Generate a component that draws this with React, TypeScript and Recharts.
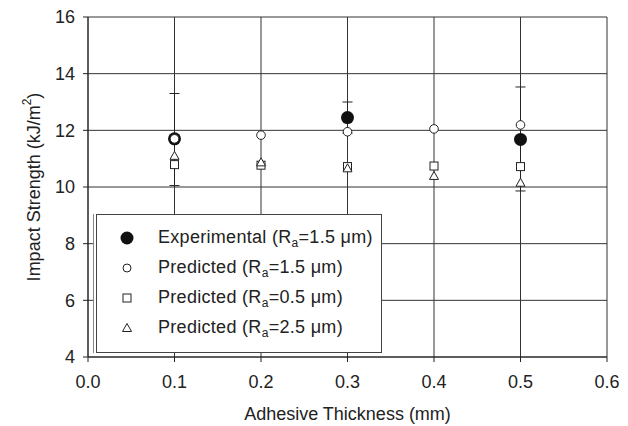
import React from 'react';
import { ScatterChart, Scatter, XAxis, YAxis, CartesianGrid, ErrorBar, Label } from 'recharts';

const thickness = [0.1, 0.2, 0.3, 0.4, 0.5];
const expThickness = [0.1, 0.3, 0.5];
const expStrength = [11.7, 12.45, 11.68];
const expErrLow = [1.65, 0.55, 1.82];
const expErrHigh = [1.6, 0.55, 1.85];
const pred15 = [11.7, 11.83, 11.95, 12.05, 12.19];
const pred05 = [10.79, 10.77, 10.72, 10.74, 10.72];
const pred25 = [11.1, 10.87, 10.66, 10.39, 10.15];
const xTicks = [0, 0.1, 0.2, 0.3, 0.4, 0.5, 0.6];
const yTicks = [4, 6, 8, 10, 12, 14, 16];

const FONT = '"Liberation Sans", Arial, sans-serif';
const INK = '#222';

const expData = expThickness.map((x, i) => ({ x, y: expStrength[i], err: [expErrLow[i], expErrHigh[i]] }));
const toRows = (ys: number[]) => thickness.map((x, i) => ({ x, y: ys[i] }));

const FilledCircle = (p: any) => <circle cx={p.cx} cy={p.cy} r={6.5} fill="#111" />;
const OpenCircle = (p: any) => <circle cx={p.cx} cy={p.cy} r={4.3} fill="#fff" stroke={INK} strokeWidth={1} />;
const OpenSquare = (p: any) => (
  <rect x={p.cx - 4} y={p.cy - 4} width={8} height={8} fill="#fff" stroke={INK} strokeWidth={1} />
);
const OpenTriangle = (p: any) => (
  <polygon
    points={`${p.cx},${p.cy - 4.5} ${p.cx + 4.5},${p.cy + 3.5} ${p.cx - 4.5},${p.cy + 3.5}`}
    fill="#fff"
    stroke={INK}
    strokeWidth={1}
  />
);

const legendRows = [
  { label: 'Experimental', ra: '1.5', icon: <circle cx={8} cy={8} r={6.5} fill="#111" /> },
  { label: 'Predicted', ra: '1.5', icon: <circle cx={8} cy={8} r={4} fill="#fff" stroke={INK} /> },
  { label: 'Predicted', ra: '0.5', icon: <rect x={4} y={4} width={8} height={8} fill="#fff" stroke={INK} /> },
  { label: 'Predicted', ra: '2.5', icon: <polygon points="8,3.5 12.5,11.5 3.5,11.5" fill="#fff" stroke={INK} /> },
];

const YTitle = ({ viewBox }: any) => {
  const x = viewBox.x + 34;
  const y = viewBox.y + viewBox.height / 2;
  return (
    <text
      x={x}
      y={y}
      transform={`rotate(-90, ${x}, ${y})`}
      textAnchor="middle"
      dominantBaseline="central"
      fontSize={18}
      fontFamily={FONT}
      fill={INK}
    >
      Impact Strength (kJ/m<tspan baselineShift="super" fontSize={12}>2</tspan>)
    </text>
  );
};

const App: React.FC = () => {
  return (
    <div style={{ position: 'absolute', left: 0, top: 0, width: 628, height: 426, background: '#fff', fontFamily: FONT }}>
      <ScatterChart width={628} height={426} margin={{ top: 17, right: 21, bottom: 0, left: 0 }}>
        <CartesianGrid stroke="#333" strokeWidth={1} />
        <XAxis
          type="number"
          dataKey="x"
          domain={[0, 0.6]}
          ticks={xTicks}
          tickFormatter={(v: number) => v.toFixed(1)}
          height={69}
          stroke={INK}
          tickSize={5}
          tickMargin={13}
          tick={{ fill: INK, fontSize: 18, fontFamily: FONT }}
        >
          <Label value="Adhesive Thickness (mm)" position="insideBottom" offset={6} fill={INK} fontSize={18} fontFamily={FONT} />
        </XAxis>
        <YAxis
          type="number"
          dataKey="y"
          domain={[4, 16]}
          ticks={yTicks}
          width={88}
          stroke={INK}
          tickSize={5}
          tickMargin={8}
          tick={{ fill: INK, fontSize: 18, fontFamily: FONT }}
        >
          <Label content={YTitle} />
        </YAxis>
        <Scatter data={expData} shape={FilledCircle} isAnimationActive={false}>
          <ErrorBar dataKey="err" direction="y" width={5} stroke={INK} strokeWidth={1} />
        </Scatter>
        <Scatter data={toRows(pred15)} shape={OpenCircle} isAnimationActive={false} />
        <Scatter data={toRows(pred05)} shape={OpenSquare} isAnimationActive={false} />
        <Scatter data={toRows(pred25)} shape={OpenTriangle} isAnimationActive={false} />
      </ScatterChart>
      <div
        style={{
          position: 'absolute',
          left: 96,
          top: 214,
          width: 284,
          height: 137,
          background: '#fff',
          border: '1px solid #444',
          boxShadow: '-2px 0 0 #fff, -3px 0 0 #888',
        }}
      >
        {legendRows.map((row, i) => (
          <div key={i} style={{ position: 'absolute', left: 0, top: 8 + i * 30, height: 30, width: '100%' }}>
            <svg width={16} height={16} style={{ position: 'absolute', left: 22, top: 7 }}>
              {row.icon}
            </svg>
            <span
              style={{
                position: 'absolute',
                left: 61,
                top: 4,
                fontSize: 18,
                letterSpacing: 0.3,
                color: INK,
                whiteSpace: 'nowrap',
                lineHeight: '20px',
              }}
            >
              {row.label} (R<sub style={{ fontSize: 12, verticalAlign: '-4px', lineHeight: 0 }}>a</sub>={row.ra} μm)
            </span>
          </div>
        ))}
      </div>
    </div>
  );
};

export default App;
